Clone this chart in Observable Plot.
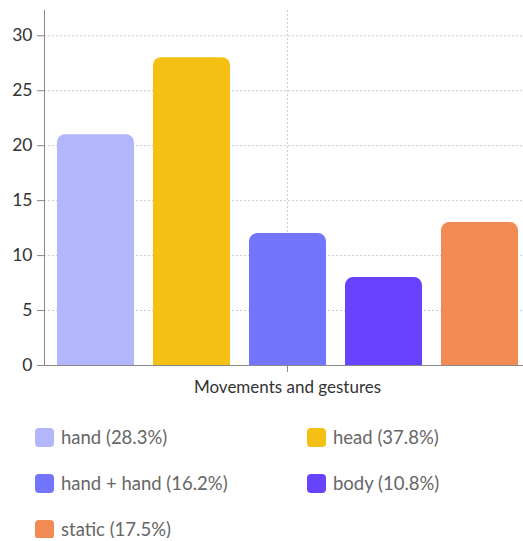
<!DOCTYPE html>
<html>
<head>
<meta charset="utf-8">
<script src="https://cdn.jsdelivr.net/npm/d3@7"></script>
<script src="https://cdn.jsdelivr.net/npm/@observablehq/plot@0.6"></script>
<style>
  html, body { margin: 0; padding: 0; background: #fff; }
  body { width: 523px; font-family: Lato, "Open Sans", sans-serif; }
  #legend {
    display: grid;
    grid-template-columns: 272px 216px;
    padding-left: 35px;
    margin-top: 28px;
    row-gap: 28px;
  }
  .item { display: flex; align-items: center; height: 18px; font-size: 18.5px; color: #666; white-space: nowrap; }
  .sw { width: 19px; height: 19px; border-radius: 4px; margin-right: 7px; flex: none; }
</style>
</head>
<body>
<div id="chart"></div>
<div id="legend"></div>
<script>
// Categories, counts and legend shares
const group = "Movements and gestures";
const names = ["hand", "head", "hand + hand", "body", "static"];
const counts = [21, 28, 12, 8, 13];
const shares = ["28.3%", "37.8%", "16.2%", "10.8%", "17.5%"];
const colors = ["#b4b6fc", "#f3c013", "#7375fc", "#6843fd", "#f28a54"];
const yTicks = [0, 5, 10, 15, 20, 25, 30];

const data = names.map((name, i) => ({group, name, value: counts[i]}));

const chart = Plot.plot({
  width: 523,
  height: 400,
  marginLeft: 44,
  marginRight: -7,
  marginTop: 10,
  marginBottom: 35,
  style: {fontFamily: "Lato, 'Open Sans', sans-serif", fontSize: "17px", color: "#333"},
  fx: {domain: [group], padding: 0, label: null},
  x: {domain: names, paddingInner: 0.2, paddingOuter: 0.11, axis: null},
  y: {domain: [0, 32.3], label: null},
  color: {domain: names, range: colors},
  marks: [
    Plot.gridY(yTicks, {stroke: "#ccc", strokeOpacity: 1, strokeDasharray: "2,2"}),
    Plot.gridFx({stroke: "#ccc", strokeOpacity: 1, strokeDasharray: "2,2"}),
    Plot.barY(data, {fx: "group", x: "name", y: "value", fill: "name", ry1: 8}),
    Plot.axisY(yTicks, {tickSize: 7, tickPadding: 5, stroke: "#888", fontSize: 17.5, label: null}),
    Plot.axisFx({anchor: "bottom", tickSize: 7, tickPadding: 8, stroke: "#888", fontSize: 17, label: null}),
    Plot.frame({anchor: "left", stroke: "#888"}),
    Plot.ruleY([0], {stroke: "#888"})
  ]
});
document.getElementById("chart").appendChild(chart);

const legend = d3.select("#legend");
names.forEach((name, i) => {
  const item = legend.append("div").attr("class", "item");
  item.append("div").attr("class", "sw").style("background", colors[i]);
  item.append("span").text(`${name} (${shares[i]})`);
});
</script>
</body>
</html>
